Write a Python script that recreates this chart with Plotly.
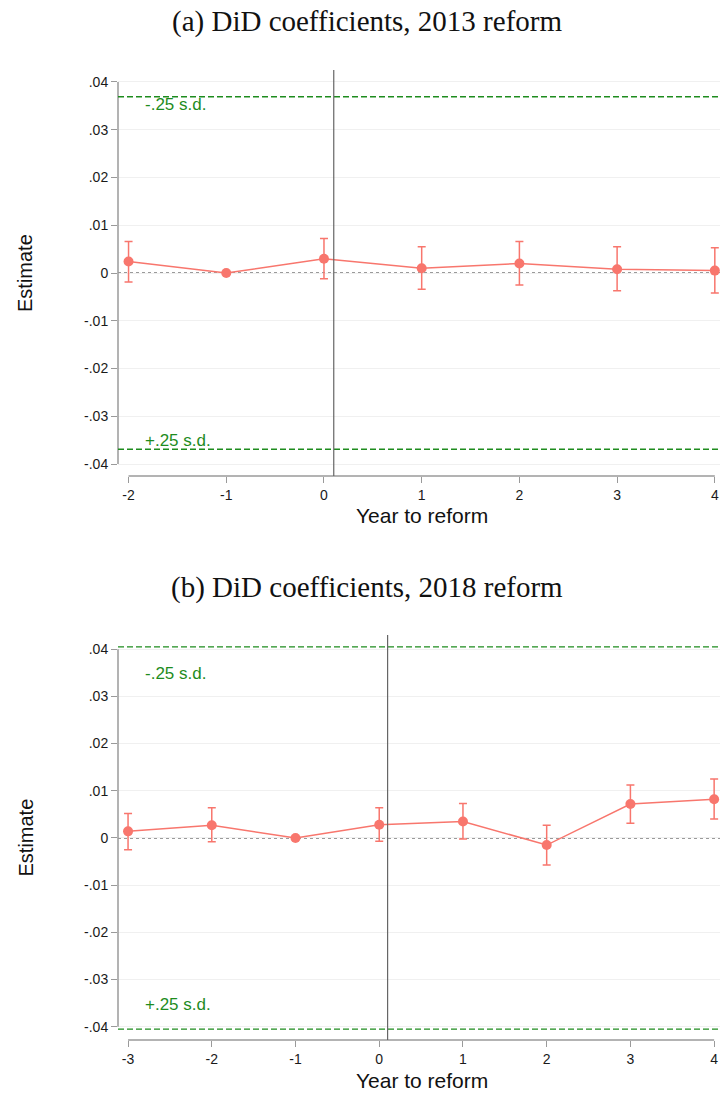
import plotly.graph_objects as go

# Panel (a): 2013 reform
years_a = [-2, -1, 0, 1, 2, 3, 4]
est_a = [0.0024, 0.0, 0.0030, 0.0010, 0.0020, 0.0008, 0.0005]
lo_a = [-0.0019, 0.0, -0.0012, -0.0034, -0.0025, -0.0037, -0.0042]
hi_a = [0.0066, 0.0, 0.0072, 0.0055, 0.0066, 0.0055, 0.0053]
sd_a = 0.0369

# Panel (b): 2018 reform
years_b = [-3, -2, -1, 0, 1, 2, 3, 4]
est_b = [0.0014, 0.0027, 0.0, 0.0028, 0.0035, -0.0015, 0.0072, 0.0082]
lo_b = [-0.0025, -0.0008, 0.0, -0.0007, -0.0002, -0.0057, 0.0031, 0.0040]
hi_b = [0.0052, 0.0064, 0.0, 0.0064, 0.0073, 0.0027, 0.0112, 0.0125]
sd_b = 0.0405

ytick_vals = [0.04, 0.03, 0.02, 0.01, 0, -0.01, -0.02, -0.03, -0.04]
ytick_text = [".04", ".03", ".02", ".01", "0", "-.01", "-.02", "-.03", "-.04"]

vline_x = 0.1
titles = ["(a) DiD coefficients, 2013 reform", "(b) DiD coefficients, 2018 reform"]

RED = "#F8766D"
GREEN = "#1E8C1E"
AXIS = "#9a9a9a"

W, H = 720, 1095
fig = go.Figure()

panels = [
    dict(x=years_a, y=est_a, lo=lo_a, hi=hi_a, sd=sd_a, xr=[-2.108, 4.053], yr=[-0.0425, 0.0425],
         top=70, bot=476, xa="x", ya="y", title_y=22, sdtop=104, sdbot=440, xt_y=515),
    dict(x=years_b, y=est_b, lo=lo_b, hi=hi_b, sd=sd_b, xr=[-3.12, 4.07], yr=[-0.0428, 0.043],
         top=635, bot=1040, xa="x2", ya="y2", title_y=587, sdtop=673, sdbot=1004, xt_y=1080),
]

layout = dict(width=W, height=H, margin=dict(l=0, r=0, t=0, b=0),
              paper_bgcolor="white", plot_bgcolor="white", showlegend=False,
              font=dict(family="Liberation Sans, Arial", color="#222"))
shapes = []
annotations = []

for i, p in enumerate(panels):
    ax_suffix = "" if i == 0 else "2"
    fig.add_trace(go.Scatter(
        x=p["x"], y=p["y"], mode="lines+markers",
        line=dict(color=RED, width=1.5),
        marker=dict(color=RED, size=10),
        error_y=dict(type="data", symmetric=False,
                     array=[h - e for h, e in zip(p["hi"], p["y"])],
                     arrayminus=[e - l for e, l in zip(p["y"], p["lo"])],
                     color=RED, thickness=1.5, width=4),
        xaxis=p["xa"], yaxis=p["ya"], cliponaxis=False))
    dom_y = [1 - p["bot"] / H, 1 - p["top"] / H]
    layout["xaxis" + ax_suffix] = dict(
        domain=[118 / W, 1.0], range=p["xr"], anchor=p["ya"],
        tickmode="array", tickvals=p["x"], ticktext=[str(v) for v in p["x"]],
        ticks="outside", ticklen=6, tickcolor=AXIS, tickwidth=1.2,
        showline=False, showgrid=False, zeroline=False,
        tickfont=dict(size=14, color="#1a1a1a"))
    layout["yaxis" + ax_suffix] = dict(
        domain=dom_y, range=p["yr"], anchor=p["xa"],
        tickmode="array", tickvals=ytick_vals, ticktext=ytick_text,
        ticks="outside", ticklen=6, tickcolor=AXIS, tickwidth=1.2,
        showline=False, showgrid=True, gridcolor="#f0f0f0", gridwidth=1,
        zeroline=False, tickfont=dict(size=14, color="#1a1a1a"))
    xr, yr = p["xa"], p["ya"]
    # axis lines limited to tick span
    shapes.append(dict(type="line", xref=xr + " domain", yref=yr, x0=0, x1=0,
                       y0=-0.04, y1=0.04, line=dict(color=AXIS, width=1.5)))
    shapes.append(dict(type="line", xref=xr, yref=yr + " domain", x0=min(p["x"]), x1=max(p["x"]),
                       y0=0, y1=0, line=dict(color=AXIS, width=1.5)))
    # zero line
    shapes.append(dict(type="line", xref=xr + " domain", yref=yr, x0=0, x1=1, y0=0, y1=0,
                       line=dict(color="#7a7a7a", width=1.5, dash="3px,3px"), layer="below"))
    # sd lines
    for s in (p["sd"], -p["sd"]):
        shapes.append(dict(type="line", xref=xr + " domain", yref=yr, x0=0, x1=1, y0=s, y1=s,
                           line=dict(color=GREEN, width=1.3, dash="6px,3px")))
    # vertical reform line
    shapes.append(dict(type="line", xref=xr, yref=yr + " domain", x0=vline_x, x1=vline_x,
                       y0=0, y1=1, line=dict(color="#666666", width=1.2)))
    annotations.append(dict(text=titles[i], xref="paper", yref="paper", x=367 / W,
                            y=1 - p["title_y"] / H, xanchor="center", yanchor="middle",
                            showarrow=False, font=dict(family="Liberation Serif, Times New Roman",
                                                       size=29, color="#111")))
    annotations.append(dict(text="-.25 s.d.", xref="paper", yref="paper", x=143 / W,
                            y=1 - p["sdtop"] / H, xanchor="left", yanchor="middle",
                            showarrow=False, font=dict(size=17, color=GREEN)))
    annotations.append(dict(text="+.25 s.d.", xref="paper", yref="paper", x=143 / W,
                            y=1 - p["sdbot"] / H, xanchor="left", yanchor="middle",
                            showarrow=False, font=dict(size=17, color=GREEN)))
    # axis titles
    annotations.append(dict(text="Estimate", xref="paper", yref="paper", x=25 / W,
                            y=1 - (p["top"] + p["bot"]) / 2 / H, xanchor="center", yanchor="middle",
                            textangle=-90, showarrow=False, font=dict(size=20, color="#111")))
    annotations.append(dict(text="Year to reform", xref="paper", yref="paper", x=422 / W,
                            y=1 - p["xt_y"] / H, xanchor="center", yanchor="middle",
                            showarrow=False, font=dict(size=21, color="#111")))

layout["shapes"] = shapes
layout["annotations"] = annotations
fig.update_layout(**layout)
fig.write_html("out.html", config={"displayModeBar": False},
               post_script="document.body.style.margin='0px';document.body.style.overflow='hidden';")
